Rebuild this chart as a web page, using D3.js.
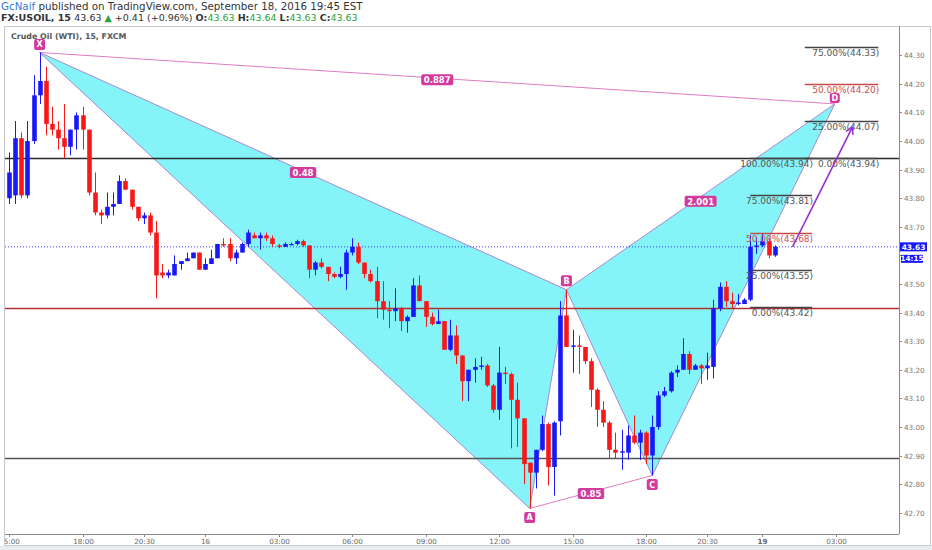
<!DOCTYPE html>
<html><head><meta charset="utf-8">
<script src="https://cdn.jsdelivr.net/npm/d3@7"></script>
<style>body{margin:0;background:#fff}svg{display:block}text{font-family:"DejaVu Sans",sans-serif}</style>
</head><body><svg id="c" width="932" height="550"></svg>
<script>
// ---- data ----
const opens =[43.80,43.81,44.01,43.81,44.00,44.16,44.21,44.06,44.04,44.01,43.98,44.04,44.09,44.04,43.82,43.75,43.74,43.77,43.78,43.86,43.83,43.77,43.73,43.74,43.68,43.54,43.53,43.53,43.57,43.58,43.59,43.61,43.55,43.57,43.59,43.64,43.64,43.59,43.61,43.64,43.67,43.66,43.67,43.66,43.635,43.63,43.64,43.64,43.65,43.635,43.55,43.575,43.56,43.535,43.525,43.535,43.61,43.63,43.575,43.535,43.51,43.44,43.41,43.405,43.415,43.37,43.385,43.495,43.44,43.385,43.36,43.37,43.27,43.32,43.25,43.16,43.20,43.21,43.215,43.145,43.06,43.19,43.185,43.095,43.03,42.875,42.84,42.92,43.01,42.86,43.02,43.39,43.28,43.285,43.28,43.23,43.13,43.06,43.015,42.92,42.91,42.91,42.97,42.945,42.98,42.90,43.00,43.11,43.125,43.19,43.20,43.255,43.20,43.215,43.205,43.21,43.415,43.49,43.44,43.43,43.43,43.445,43.63,43.635,43.65,43.60];
const highs =[43.96,44.07,44.03,44.07,44.23,44.31,44.26,44.12,44.07,44.13,44.04,44.10,44.12,44.04,43.89,43.76,43.82,43.82,43.88,43.87,43.83,43.77,43.75,43.75,43.72,43.57,43.55,43.60,43.58,43.61,43.61,43.61,43.59,43.62,43.64,43.66,43.66,43.62,43.645,43.69,43.68,43.68,43.68,43.67,43.64,43.645,43.645,43.655,43.655,43.635,43.58,43.59,43.56,43.54,43.56,43.62,43.66,43.645,43.575,43.55,43.56,43.51,43.44,43.485,43.42,43.39,43.52,43.53,43.44,43.40,43.41,43.37,43.375,43.355,43.25,43.20,43.24,43.245,43.22,43.15,43.28,43.21,43.19,43.155,43.03,42.875,42.92,43.04,43.015,43.02,43.44,43.48,43.34,43.32,43.28,43.24,43.135,43.09,43.02,42.98,42.99,43.005,43.04,42.99,42.985,43.04,43.125,43.14,43.195,43.215,43.31,43.265,43.22,43.22,43.26,43.445,43.505,43.51,43.47,43.465,43.45,43.67,43.665,43.675,43.66,43.635];
const lows  =[43.78,43.78,43.80,43.80,43.99,44.13,44.02,44.02,43.97,43.94,43.95,43.97,43.97,43.81,43.74,43.71,43.73,43.74,43.78,43.83,43.76,43.72,43.71,43.67,43.45,43.52,43.52,43.53,43.55,43.58,43.59,43.55,43.55,43.57,43.59,43.63,43.58,43.57,43.61,43.63,43.66,43.62,43.65,43.63,43.625,43.63,43.635,43.635,43.63,43.52,43.53,43.555,43.51,43.52,43.52,43.48,43.60,43.57,43.52,43.505,43.38,43.375,43.345,43.37,43.335,43.33,43.385,43.44,43.35,43.355,43.36,43.27,43.265,43.22,43.09,43.09,43.155,43.20,43.14,43.05,43.025,43.15,42.925,42.93,42.80,42.715,42.785,42.915,42.795,42.76,42.97,43.28,43.19,43.185,43.22,43.07,43.00,43.00,42.89,42.89,42.85,42.885,42.94,42.885,42.87,42.83,42.99,43.105,43.12,43.175,43.20,43.185,43.20,43.15,43.165,43.17,43.405,43.42,43.415,43.425,43.43,43.44,43.605,43.63,43.59,43.595];
const closes=[43.89,44.01,43.81,44.00,44.16,44.21,44.06,44.04,44.01,43.98,44.04,44.09,44.04,43.82,43.75,43.74,43.77,43.78,43.86,43.83,43.77,43.73,43.74,43.68,43.53,43.53,43.54,43.57,43.58,43.59,43.61,43.55,43.57,43.59,43.64,43.635,43.59,43.61,43.64,43.68,43.66,43.67,43.66,43.64,43.63,43.64,43.64,43.65,43.635,43.55,43.575,43.56,43.535,43.525,43.535,43.61,43.63,43.575,43.535,43.51,43.44,43.41,43.405,43.415,43.37,43.385,43.495,43.44,43.385,43.36,43.37,43.27,43.32,43.25,43.16,43.20,43.21,43.215,43.145,43.06,43.19,43.185,43.095,43.03,42.87,42.84,42.92,43.01,42.86,43.015,43.39,43.28,43.285,43.28,43.23,43.13,43.06,43.015,42.92,42.91,42.915,42.97,42.945,42.98,42.90,43.00,43.11,43.125,43.19,43.20,43.255,43.20,43.215,43.205,43.215,43.415,43.49,43.44,43.43,43.435,43.445,43.63,43.635,43.65,43.60,43.63];

const xTickIdx   =[0,12,22,32,44,56,68,80,92,104,114,123,135];
const xTickLabels=["15:00","18:00","20:30","16","03:00","06:00","09:00","12:00","15:00","18:00","20:30","19","03:00"];
const yTicks=[42.70,42.80,42.90,43.00,43.10,43.20,43.30,43.40,43.50,43.60,43.70,43.80,43.90,44.00,44.10,44.20,44.30];

const pointNames=["X","A","B","C","D"];
const pointIdx  =[5,85,91,105,134.8];
const pointPrice=[44.31,42.715,43.48,42.83,44.13];
const ratioText =["0.48","0.887","2.001","0.85"];

const fib1Levels=[43.42,43.55,43.68,43.81,43.94];
const fib1Pct   =["0.00%","25.00%","50.00%","75.00%","100.00%"];
const fib2Levels=[43.94,44.07,44.20,44.33];
const fib2Pct   =["0.00%","25.00%","50.00%","75.00%"];
const hLevels   =[43.94,43.415,42.89];
const hColors   =["#2a2a2a","#b03030","#555"];
const lastPrice = 43.63, lastTime="14:15";
const arrowFrom=[127.9,43.63], arrowTo=[137.7,44.05];

// ---- layout ----
const L=5,R=899,T=26,B=534;
const svg=d3.select("#c");
const x=d3.scaleLinear().domain([0,135]).range([9,836]);
const y=d3.scaleLinear().domain([42.70,44.30]).range([512.7,55.3]);

svg.append("rect").attr("x",0).attr("y",0).attr("width",932).attr("height",550).attr("fill","#fff");
svg.append("rect").attr("x",0).attr("y",546).attr("width",932).attr("height",4).attr("fill","#e9ecef");
svg.append("rect").attr("x",4.5).attr("y",26.5).attr("width",926).attr("height",519).attr("fill","none").attr("stroke","#c8c8c8");

const defs=svg.append("defs");
defs.append("clipPath").attr("id","pc").append("rect").attr("x",L).attr("y",T).attr("width",R-L).attr("height",B-T);
defs.append("clipPath").attr("id","xc").append("rect").attr("x",L).attr("y",B).attr("width",R-L).attr("height",12);
const g=svg.append("g").attr("clip-path","url(#pc)");

const P=pointIdx.map((d,i)=>[x(d),y(pointPrice[i])]);
[[0,1,2],[2,3,4]].forEach(t=>{
  g.append("path").attr("d","M"+t.map(k=>P[k].join(",")).join("L")+"Z").attr("fill","#85f4f8").attr("stroke","none");
});
[[0,1],[1,2],[0,2],[2,3],[3,4],[2,4]].forEach(e=>{
  g.append("line").attr("x1",P[e[0]][0]).attr("y1",P[e[0]][1]).attr("x2",P[e[1]][0]).attr("y2",P[e[1]][1]).attr("stroke","#a888cc").attr("stroke-width",1);
});
[[0,4],[1,3]].forEach(e=>{
  g.append("line").attr("x1",P[e[0]][0]).attr("y1",P[e[0]][1]).attr("x2",P[e[1]][0]).attr("y2",P[e[1]][1]).attr("stroke","#e07ac4").attr("stroke-width",1);
});

hLevels.forEach((v,i)=>{
  g.append("line").attr("x1",L).attr("x2",R).attr("y1",Math.round(y(v))+0.5).attr("y2",Math.round(y(v))+0.5).attr("stroke",hColors[i]).attr("stroke-width",i==0?1.6:1.3);
});
g.append("line").attr("x1",L).attr("x2",R).attr("y1",y(lastPrice)).attr("y2",y(lastPrice)).attr("stroke","#3b3bff").attr("stroke-dasharray","1,2").attr("stroke-width",1);

const cw=4.6;
opens.forEach((o,i)=>{
  const c=closes[i], up=c>=o, col=up?"#1818f8":"#f81818";
  const cx=Math.round(x(i))+0.5;
  g.append("line").attr("x1",cx).attr("x2",cx).attr("y1",y(highs[i])).attr("y2",y(lows[i])).attr("stroke",col).attr("stroke-width",1);
  const y0=y(Math.max(o,c)), y1=y(Math.min(o,c));
  g.append("rect").attr("x",cx-cw/2).attr("y",y0).attr("width",cw).attr("height",Math.max(1.2,y1-y0)).attr("fill",col);
});

function fib(levels,pct,i0,i1){
  levels.forEach((v,k)=>{
    const yy=Math.round(y(v))+0.5;
    const red=pct[k]==="50.00%";
    const col=red?"#c84848":"#444";
    g.append("line").attr("x1",x(i0)).attr("x2",x(i1)).attr("y1",yy).attr("y2",yy).attr("stroke",col).attr("stroke-width",1.3);
    g.append("text").attr("x",x(i1)+1).attr("y",yy+8.5).attr("text-anchor","end").attr("font-size",9).attr("fill",red?"#c85050":"#555")
      .text(pct[k]+"("+v.toFixed(2)+")");
  });
}
fib(fib1Levels,fib1Pct,121,131.1);
fib(fib2Levels,fib2Pct,129.9,141.9);

const ax1=x(arrowFrom[0]),ay1=y(arrowFrom[1]),ax2=x(arrowTo[0]),ay2=y(arrowTo[1]);
g.append("line").attr("x1",ax1).attr("y1",ay1).attr("x2",ax2).attr("y2",ay2).attr("stroke","#9a2ed0").attr("stroke-width",1.6);
const ang=Math.atan2(ay2-ay1,ax2-ax1);
[0.5,-0.5].forEach(s=>{
  g.append("line").attr("x1",ax2).attr("y1",ay2).attr("x2",ax2-8*Math.cos(ang+s)).attr("y2",ay2-8*Math.sin(ang+s)).attr("stroke","#9a2ed0").attr("stroke-width",1.6);
});

const pairs=[[0,2],[0,4],[2,4],[1,3]];
pairs.forEach((p,k)=>{
  const mx=(P[p[0]][0]+P[p[1]][0])/2, my=(P[p[0]][1]+P[p[1]][1])/2+(k==2?5:2);
  const w=ratioText[k].length*5.6+4;
  g.append("rect").attr("x",mx-w/2).attr("y",my-6).attr("width",w).attr("height",11).attr("rx",2).attr("fill","#d23a9e");
  g.append("text").attr("x",mx).attr("y",my+3).attr("text-anchor","middle").attr("font-size",8.5).attr("font-weight","bold").attr("fill","#fff").text(ratioText[k]);
});
const dir=[-1,1,-1,1,-1];
const off=[8,9,9,9,6];
pointNames.forEach((n,k)=>{
  const cx=P[k][0], cy=P[k][1]+dir[k]*off[k];
  const s=k==4?10:11;
  g.append("rect").attr("x",cx-s/2).attr("y",cy-s/2).attr("width",s).attr("height",s).attr("rx",2).attr("fill","#d23a9e");
  g.append("text").attr("x",cx).attr("y",cy+3).attr("text-anchor","middle").attr("font-size",8).attr("font-weight","bold").attr("fill","#fff").text(n);
});

// axes
svg.append("line").attr("x1",L).attr("x2",R).attr("y1",B+0.5).attr("y2",B+0.5).attr("stroke","#8a8a8a");
svg.append("line").attr("x1",R+0.5).attr("x2",R+0.5).attr("y1",T).attr("y2",B).attr("stroke","#8a8a8a");
const xg=svg.append("g").attr("clip-path","url(#xc)");
xTickIdx.forEach((t,k)=>{
  const xx=Math.round(x(t))+0.5;
  xg.append("line").attr("x1",xx).attr("x2",xx).attr("y1",B).attr("y2",B+3).attr("stroke","#8a8a8a");
  xg.append("text").attr("x",xx).attr("y",B+10).attr("text-anchor","middle").attr("font-size",7.2)
    .attr("font-weight",xTickLabels[k]==="19"?"bold":"normal").attr("fill","#666").text(xTickLabels[k]);
});
const ly=y(lastPrice);
yTicks.forEach(v=>{
  const yy=Math.round(y(v))+0.5;
  svg.append("line").attr("x1",R).attr("x2",R+3).attr("y1",yy).attr("y2",yy).attr("stroke","#8a8a8a");
  if(Math.abs(yy-(ly+6))<12) return; // hidden behind the last-price boxes
  svg.append("text").attr("x",R+5).attr("y",yy+2.5).attr("font-size",7.2).attr("fill","#777").text(v.toFixed(2));
});
svg.append("rect").attr("x",R+1).attr("y",ly-4.5).attr("width",27).attr("height",9).attr("fill","#1515ff");
svg.append("text").attr("x",R+14.5).attr("y",ly+3).attr("text-anchor","middle").attr("font-size",7.5).attr("font-weight","bold").attr("fill","#fff").text(lastPrice.toFixed(2));
svg.append("rect").attr("x",R+2).attr("y",ly+8).attr("width",22).attr("height",8).attr("fill","#1515ff");
svg.append("text").attr("x",R+13).attr("y",ly+14.6).attr("text-anchor","middle").attr("font-size",7.2).attr("font-weight","bold").attr("fill","#fff").text(lastTime);

// header
const h1=svg.append("text").attr("x",1).attr("y",10).attr("font-size",10.3).attr("fill","#333");
h1.append("tspan").attr("fill","#3a78d8").text("GcNaif");
h1.append("tspan").text(" published on TradingView.com, September 18, 2016 19:45 EST");
const h2=svg.append("text").attr("x",1).attr("y",21).attr("font-size",9.5).attr("fill","#333");
h2.append("tspan").attr("font-weight","bold").text("FX:USOIL, 15 ");
h2.append("tspan").text("43.63 ");
h2.append("tspan").attr("fill","#2aa13a").text("▲");
h2.append("tspan").text(" +0.41 (+0.96%) ");
[["O:","43.63"],["H:","43.64"],["L:","43.63"],["C:","43.63"]].forEach(p=>{
  h2.append("tspan").attr("font-weight","bold").text(p[0]);
  h2.append("tspan").attr("fill","#2aa13a").text(p[1]+" ");
});
svg.append("text").attr("x",11).attr("y",38.5).attr("font-size",7.9).attr("font-weight","bold").attr("fill","#555").text("Crude Oil (WTI), 15, FXCM");
</script></body></html>
